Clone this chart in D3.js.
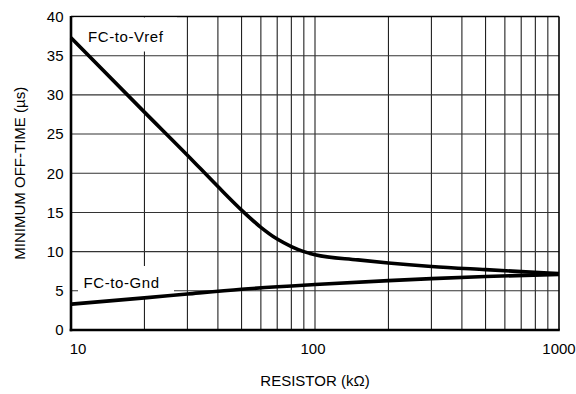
<!DOCTYPE html>
<html>
<head>
<meta charset="utf-8">
<script src="https://cdn.jsdelivr.net/npm/d3@7"></script>
<style>
  html, body { margin: 0; padding: 0; background: #fff; }
  svg { display: block; font-family: "Liberation Sans", Arial, Helvetica, sans-serif; }
</style>
</head>
<body>
<svg id="chart" width="576" height="394"></svg>
<script>
// ---- data ----
const vrefR      = [10, 20, 30, 40, 50, 60, 70, 80, 90, 100, 150, 200, 300, 500, 700, 1000];
const vrefTime   = [37.3, 27.8, 22.3, 18.3, 15.3, 13.1, 11.6, 10.65, 10.0, 9.6, 8.95, 8.55, 8.1, 7.7, 7.45, 7.2];
const gndR       = [10, 20, 30, 50, 100, 200, 300, 500, 1000];
const gndTime    = [3.3, 4.1, 4.6, 5.2, 5.8, 6.3, 6.55, 6.82, 7.1];
const xGridValues = [20, 30, 40, 50, 60, 70, 80, 90, 100, 200, 300, 400, 500, 600, 700, 800, 900];
const xTickLabels = [10, 100, 1000];
const yTickValues = [0, 5, 10, 15, 20, 25, 30, 35, 40];
const seriesLabels = ["FC-to-Vref", "FC-to-Gnd"];
const xTitle = "RESISTOR (kΩ)";
const yTitle = "MINIMUM OFF-TIME (µs)";

// ---- layout ----
const L = 71, R = 559, T = 16.5, B = 330;
const svg = d3.select("#chart");
const x = d3.scaleLog().domain([10, 1000]).range([L, R]);
const y = d3.scaleLinear().domain([0, 40]).range([B, T]);

// grid
const grid = svg.append("g");
grid.selectAll("line.v").data(xGridValues).join("line")
  .attr("x1", d => x(d)).attr("x2", d => x(d))
  .attr("y1", T).attr("y2", B)
  .attr("stroke", "#222").attr("stroke-width", 1.1);
grid.selectAll("line.h").data(yTickValues.filter(v => v > 0 && v < 40)).join("line")
  .attr("x1", L).attr("x2", R)
  .attr("y1", d => y(d)).attr("y2", d => y(d))
  .attr("stroke", "#333").attr("stroke-width", 1.1);

// frame
svg.append("line").attr("x1", L).attr("x2", R).attr("y1", T).attr("y2", T)
  .attr("stroke", "#000").attr("stroke-width", 1.6);
svg.append("line").attr("x1", R).attr("x2", R).attr("y1", T).attr("y2", B)
  .attr("stroke", "#000").attr("stroke-width", 1.6);

// label boxes (white backgrounds)
svg.append("rect").attr("x", 74).attr("y", T + 1).attr("width", 103).attr("height", 34).attr("fill", "#fff");
svg.append("rect").attr("x", 78).attr("y", 266).attr("width", 96).attr("height", 31).attr("fill", "#fff");

// curves
const line = d3.line().x(d => x(d[0])).y(d => y(d[1])).curve(d3.curveMonotoneX);
svg.append("path").datum(vrefR.map((r, i) => [r, vrefTime[i]]))
  .attr("d", line).attr("fill", "none").attr("stroke", "#000").attr("stroke-width", 3.6)
  .attr("stroke-linejoin", "round");
svg.append("path").datum(gndR.map((r, i) => [r, gndTime[i]]))
  .attr("d", line).attr("fill", "none").attr("stroke", "#000").attr("stroke-width", 3.6)
  .attr("stroke-linejoin", "round");

// axes lines (thick left & bottom)
svg.append("line").attr("x1", L).attr("x2", L).attr("y1", T - 0.5).attr("y2", B + 1.3)
  .attr("stroke", "#000").attr("stroke-width", 2.6);
svg.append("line").attr("x1", L - 1.3).attr("x2", R + 0.8).attr("y1", B).attr("y2", B)
  .attr("stroke", "#000").attr("stroke-width", 2.6);

// series labels
svg.append("text").attr("x", 88).attr("y", 41.5).attr("font-size", 15).attr("fill", "#000")
  .attr("letter-spacing", 0.6).text(seriesLabels[0]);
svg.append("text").attr("x", 83.5).attr("y", 288).attr("font-size", 15).attr("fill", "#000")
  .attr("letter-spacing", 0.6).text(seriesLabels[1]);

// y tick labels
svg.append("g").selectAll("text").data(yTickValues).join("text")
  .attr("x", 63.5).attr("y", d => y(d)).attr("dy", "0.36em")
  .attr("text-anchor", "end").attr("font-size", 15).attr("fill", "#000")
  .text(d => d);

// x tick labels
svg.append("g").selectAll("text").data(xTickLabels).join("text")
  .attr("x", d => x(d) + (d === 10 ? 7 : (d === 100 ? -2 : 0)))
  .attr("y", 354).attr("text-anchor", "middle").attr("font-size", 15).attr("fill", "#000")
  .text(d => d);

// axis titles
svg.append("text").attr("x", 315).attr("y", 386).attr("text-anchor", "middle")
  .attr("font-size", 15).attr("fill", "#000").text(xTitle);
svg.append("text").attr("transform", "translate(25," + ((T + B) / 2) + ") rotate(-90)")
  .attr("text-anchor", "middle").attr("font-size", 15).attr("fill", "#000").text(yTitle);
</script>
</body>
</html>
